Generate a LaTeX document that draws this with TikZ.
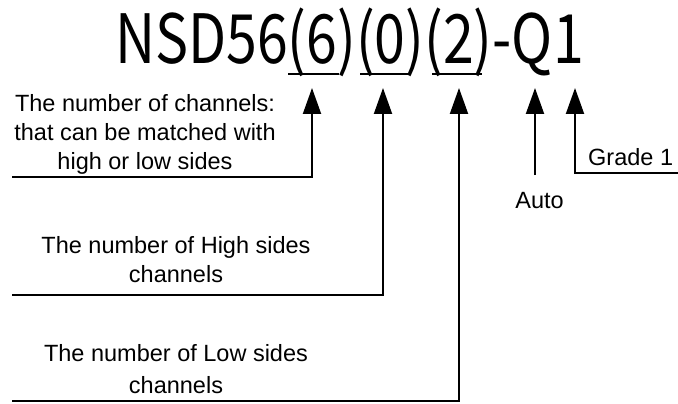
\documentclass[tikz,border=0pt]{standalone}
\usepackage{fontspec}
\setmainfont{Liberation Sans}
\newfontfamily\titlefont{Noto Sans CJK SC}
\usetikzlibrary{arrows.meta}
\begin{document}
\begin{tikzpicture}[x=1pt,y=-1pt,
  lbl/.style={font=\fontsize{23.5}{29}\selectfont, align=center, inner sep=0pt},
  conn/.style={line width=2pt, -{Triangle[length=26pt,width=18pt]}},
  uline/.style={line width=2pt}]
\useasboundingbox (0,0) rectangle (678,404);
\node[font=\titlefont\fontsize{68}{68}\selectfont, inner sep=0pt, anchor=base] (title) at (349.5,64) {\scalebox{0.815}[1]{NSD56(6)(0)(2)-Q1}};
% underlines
\coordinate (u1a) at (288,74); \coordinate (u1b) at (339,74);
\coordinate (u2a) at (360,74); \coordinate (u2b) at (411,74);
\coordinate (u3a) at (432,74); \coordinate (u3b) at (482,74);
\draw[uline] (u1a) -- (u1b);
\draw[uline] (u2a) -- (u2b);
\draw[uline] (u3a) -- (u3b);
% tips
\coordinate (t1) at (312,88);
\coordinate (t2) at (383,88);
\coordinate (t3) at (459,88);
\coordinate (t4) at (535,88);
\coordinate (t5) at (575,88);
% free ends
\coordinate (s1) at (12,177);
\coordinate (s2) at (12,295);
\coordinate (s3) at (12,401);
\coordinate (s4) at (535,175);
\coordinate (s5) at (678,173);
\draw[conn] (s1) -| (t1);
\draw[conn] (s2) -| (t2);
\draw[conn] (s3) -| (t3);
\draw[conn] (s4) -- (t4);
\draw[conn] (s5) -| (t5);
% labels
\node[lbl] (l1) at (145,134) {The number of channels:\\that can be matched with\\high or low sides};
\node[lbl] (l2) at (176,260) {The number of High sides\\channels};
\node[lbl, font=\fontsize{23.5}{32}\selectfont] (l3) at (176,369) {The number of Low sides\\channels};
\node[lbl, anchor=base] (auto) at (539.5,208) {Auto};
\node[lbl, anchor=base west] (grade) at (588,165) {Grade 1};
\end{tikzpicture}
\end{document}
